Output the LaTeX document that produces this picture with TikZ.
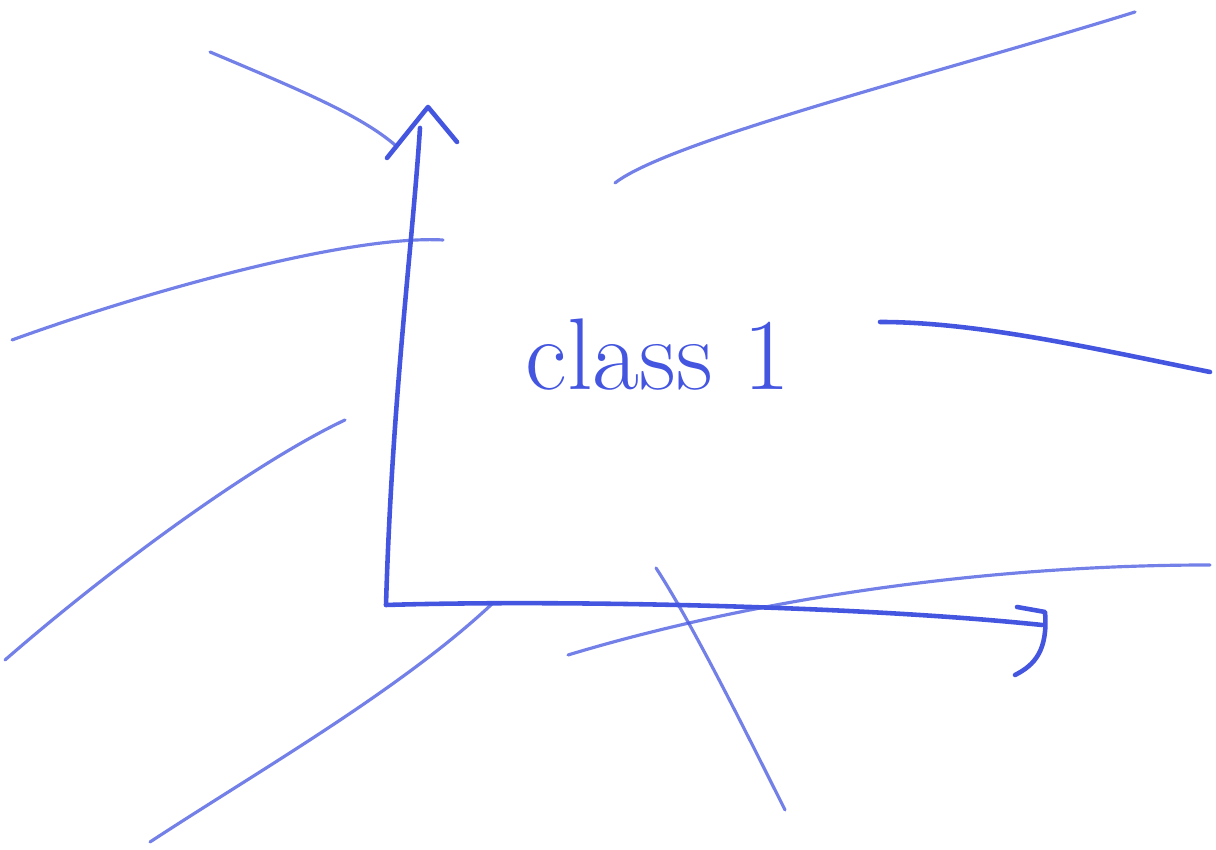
\documentclass[tikz,border=0pt]{standalone}
\usepackage{tikz}
\definecolor{penblue}{RGB}{68,86,224}
\tikzset{
  stroke/.style={draw=penblue, line width=1.3pt, line cap=round, line join=round},
  faint/.style={stroke, line width=0.9pt, opacity=0.75},
}
\begin{document}
\begin{tikzpicture}[thick]
  \useasboundingbox (0,0) rectangle (12.16,8.5);
  % axes
  \coordinate (origin) at (3.86,2.45);
  \coordinate (ytip) at (4.20,7.22);
  \coordinate (xtip) at (10.42,2.25);
  \draw[stroke] (origin) .. controls (3.92,4.5) and (4.12,6.0) .. (ytip);
  \draw[stroke] (3.87,6.92) -- (4.28,7.43) -- (4.57,7.08);
  \draw[stroke] (origin) .. controls (5.5,2.50) and (8.5,2.45) .. (xtip);
  \draw[stroke] (10.17,2.43) -- (10.45,2.38) .. controls (10.48,2.0) and (10.35,1.85) .. (10.15,1.75);

  % strokes round the plot
  \draw[faint] (2.10,7.98) .. controls (3.0,7.6) and (3.6,7.35) .. (3.95,7.05);
  \draw[faint] (6.15,6.67) .. controls (6.7,7.1) and (9.5,7.8) .. (11.35,8.38);
  \draw[faint] (0.12,5.10) .. controls (1.5,5.6) and (3.5,6.15) .. (4.43,6.10);
  \draw[stroke] (8.80,5.28) .. controls (9.8,5.28) and (11.0,5.0) .. (12.10,4.78);
  \draw[faint] (0.05,1.90) .. controls (1.2,2.9) and (2.6,3.9) .. (3.45,4.30);
  \draw[faint] (1.50,0.08) .. controls (2.6,0.8) and (4.0,1.6) .. (4.92,2.46);
  \draw[faint] (5.68,1.95) .. controls (7.5,2.5) and (9.8,2.85) .. (12.10,2.85);
  \draw[faint] (6.56,2.82) .. controls (6.9,2.3) and (7.4,1.3) .. (7.85,0.40);

  % label
  \node[text=penblue, font=\fontsize{29}{35}\selectfont] (lbl) at (6.58,4.95) {class 1};
\end{tikzpicture}
\end{document}
